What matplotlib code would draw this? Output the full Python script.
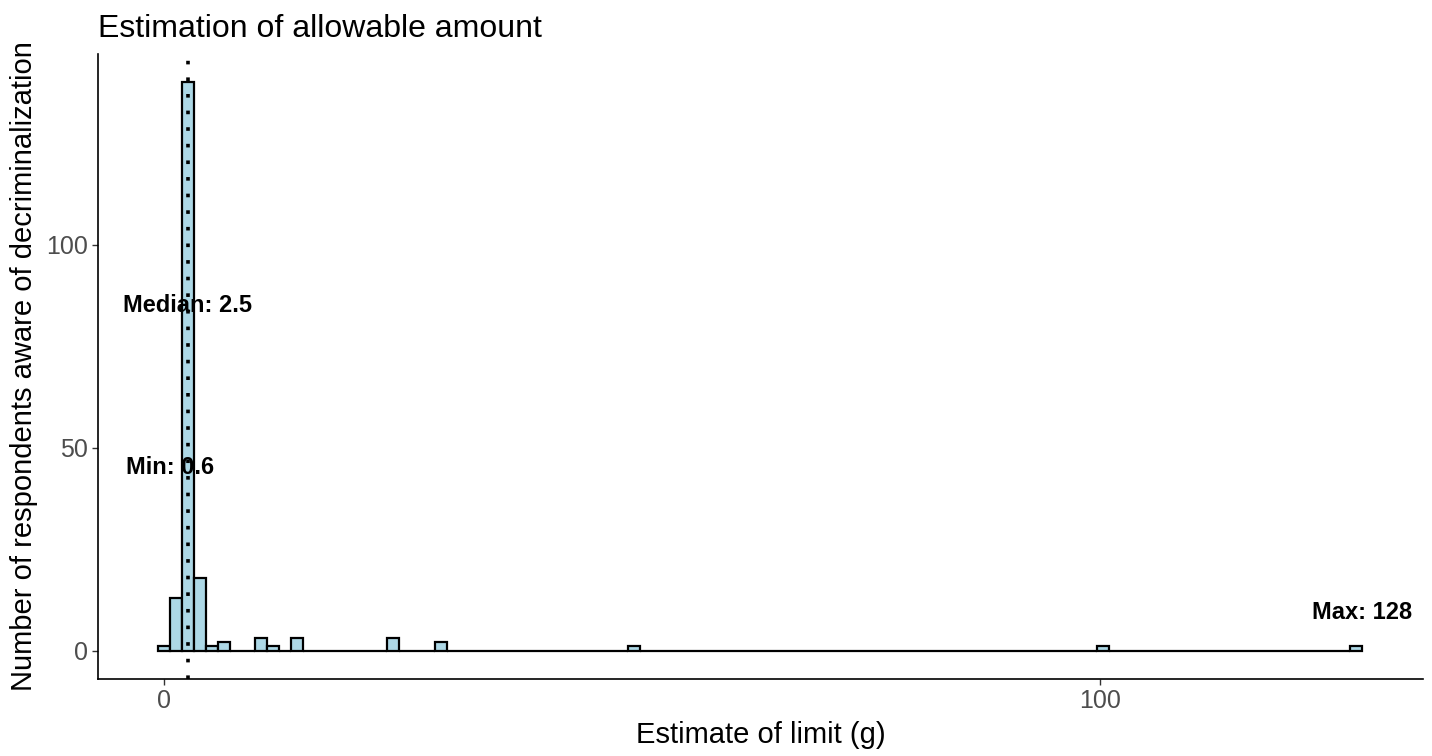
import matplotlib.pyplot as plt
import numpy as np

# histogram of limit estimates (g), 100 bins from min to max as in the source
est_min = 0.6
est_max = 128
est_median = 2.5
n_bins = 100

# non-empty bins (index from 0) and their counts
bin_index = [0, 1, 2, 3, 4, 5, 8, 9, 11, 19, 23, 39, 78, 99]
bin_count = [1, 13, 140, 18, 1, 2, 3, 1, 3, 3, 2, 1, 1, 1]

width = (est_max - est_min) / (n_bins - 1)
centers = np.arange(n_bins) * width
counts = np.zeros(n_bins)
counts[bin_index] = bin_count

plt.rcParams['font.family'] = ['Liberation Sans', 'DejaVu Sans']

fig = plt.figure(figsize=(14.32, 7.56), dpi=100)
ax = fig.add_axes([0.0684, 0.1019, 0.9253, 0.8267])

ax.bar(centers, counts, width=width, color='#ADD8E6', edgecolor='black',
       linewidth=1.6, zorder=2)
ax.axvline(est_median, color='black', linewidth=2.6,
           linestyle=(0, (1, 3.6)), dash_capstyle='butt', zorder=3)

ax.text(est_median, 85, 'Median: 2.5', ha='center', va='center',
        fontsize=17, fontweight='bold', zorder=4)
ax.text(est_min, 45, 'Min: 0.6', ha='center', va='center',
        fontsize=17, fontweight='bold', zorder=4)
ax.text(est_max, 9.5, 'Max: 128', ha='center', va='center',
        fontsize=17, fontweight='bold', zorder=4)

lo = -width / 2
hi = est_max + width / 2 - 0.55
pad = (hi - lo) * 0.05
ax.set_xlim(lo - pad, hi + pad)
ax.set_ylim(-7, 147)
ax.set_xticks([0, 100])
ax.set_yticks([0, 50, 100])

for s in ['top', 'right']:
    ax.spines[s].set_visible(False)
for s in ['left', 'bottom']:
    ax.spines[s].set_linewidth(1.2)
ax.tick_params(colors='#333333', labelcolor='#4D4D4D', labelsize=18,
               length=4, width=1, pad=3)

ax.set_xlabel('Estimate of limit (g)', fontsize=21, labelpad=6)
ax.set_ylabel('Number of respondents aware of decriminalization',
              fontsize=21, labelpad=6)
ax.set_title('Estimation of allowable amount', fontsize=23, loc='left', pad=12)

fig.savefig('out.png', dpi=100)
